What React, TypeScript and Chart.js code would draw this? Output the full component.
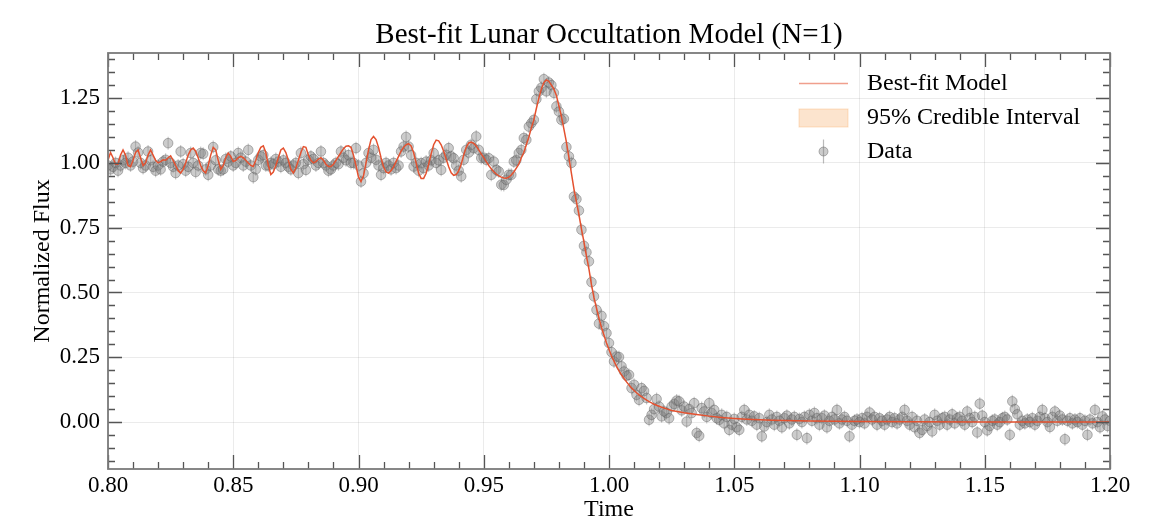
import React, { useEffect, useRef } from 'react';
import { Chart, registerables } from 'chart.js';

Chart.register(...registerables);

// ---------- data ----------
const titleText = 'Best-fit Lunar Occultation Model (N=1)';
const xLabel = 'Time';
const yLabel = 'Normalized Flux';
const legendLabels = ['Best-fit Model', '95% Credible Interval', 'Data'];

const dataTime = [
  0.800, 0.801, 0.802, 0.803, 0.804, 0.805, 0.806, 0.807, 0.808, 0.809,
  0.810, 0.811, 0.812, 0.813, 0.814, 0.815, 0.816, 0.817, 0.818, 0.819,
  0.820, 0.821, 0.822, 0.823, 0.824, 0.825, 0.826, 0.827, 0.828, 0.829,
  0.830, 0.831, 0.832, 0.833, 0.834, 0.835, 0.836, 0.837, 0.838, 0.839,
  0.840, 0.841, 0.842, 0.843, 0.844, 0.845, 0.846, 0.847, 0.848, 0.849,
  0.850, 0.851, 0.852, 0.853, 0.854, 0.855, 0.856, 0.857, 0.858, 0.859,
  0.860, 0.861, 0.862, 0.863, 0.864, 0.865, 0.866, 0.867, 0.868, 0.869,
  0.870, 0.871, 0.872, 0.873, 0.874, 0.875, 0.876, 0.877, 0.878, 0.879,
  0.880, 0.881, 0.882, 0.883, 0.884, 0.885, 0.886, 0.887, 0.888, 0.889,
  0.890, 0.891, 0.892, 0.893, 0.894, 0.895, 0.896, 0.897, 0.898, 0.899,
  0.900, 0.901, 0.902, 0.903, 0.904, 0.905, 0.906, 0.907, 0.908, 0.909,
  0.910, 0.911, 0.912, 0.913, 0.914, 0.915, 0.916, 0.917, 0.918, 0.919,
  0.920, 0.921, 0.922, 0.923, 0.924, 0.925, 0.926, 0.927, 0.928, 0.929,
  0.930, 0.931, 0.932, 0.933, 0.934, 0.935, 0.936, 0.937, 0.938, 0.939,
  0.940, 0.941, 0.942, 0.943, 0.944, 0.945, 0.946, 0.947, 0.948, 0.949,
  0.950, 0.951, 0.952, 0.953, 0.954, 0.955, 0.956, 0.957, 0.958, 0.959,
  0.960, 0.961, 0.962, 0.963, 0.964, 0.965, 0.966, 0.967, 0.968, 0.969,
  0.970, 0.971, 0.972, 0.973, 0.974, 0.975, 0.976, 0.977, 0.978, 0.979,
  0.980, 0.981, 0.982, 0.983, 0.984, 0.985, 0.986, 0.987, 0.988, 0.989,
  0.990, 0.991, 0.992, 0.993, 0.994, 0.995, 0.996, 0.997, 0.998, 0.999,
  1.000, 1.001, 1.002, 1.003, 1.004, 1.005, 1.006, 1.007, 1.008, 1.009,
  1.010, 1.011, 1.012, 1.013, 1.014, 1.015, 1.016, 1.017, 1.018, 1.019,
  1.020, 1.021, 1.022, 1.023, 1.024, 1.025, 1.026, 1.027, 1.028, 1.029,
  1.030, 1.031, 1.032, 1.033, 1.034, 1.035, 1.036, 1.037, 1.038, 1.039,
  1.040, 1.041, 1.042, 1.043, 1.044, 1.045, 1.046, 1.047, 1.048, 1.049,
  1.050, 1.051, 1.052, 1.053, 1.054, 1.055, 1.056, 1.057, 1.058, 1.059,
  1.060, 1.061, 1.062, 1.063, 1.064, 1.065, 1.066, 1.067, 1.068, 1.069,
  1.070, 1.071, 1.072, 1.073, 1.074, 1.075, 1.076, 1.077, 1.078, 1.079,
  1.080, 1.081, 1.082, 1.083, 1.084, 1.085, 1.086, 1.087, 1.088, 1.089,
  1.090, 1.091, 1.092, 1.093, 1.094, 1.095, 1.096, 1.097, 1.098, 1.099,
  1.100, 1.101, 1.102, 1.103, 1.104, 1.105, 1.106, 1.107, 1.108, 1.109,
  1.110, 1.111, 1.112, 1.113, 1.114, 1.115, 1.116, 1.117, 1.118, 1.119,
  1.120, 1.121, 1.122, 1.123, 1.124, 1.125, 1.126, 1.127, 1.128, 1.129,
  1.130, 1.131, 1.132, 1.133, 1.134, 1.135, 1.136, 1.137, 1.138, 1.139,
  1.140, 1.141, 1.142, 1.143, 1.144, 1.145, 1.146, 1.147, 1.148, 1.149,
  1.150, 1.151, 1.152, 1.153, 1.154, 1.155, 1.156, 1.157, 1.158, 1.159,
  1.160, 1.161, 1.162, 1.163, 1.164, 1.165, 1.166, 1.167, 1.168, 1.169,
  1.170, 1.171, 1.172, 1.173, 1.174, 1.175, 1.176, 1.177, 1.178, 1.179,
  1.180, 1.181, 1.182, 1.183, 1.184, 1.185, 1.186, 1.187, 1.188, 1.189,
  1.190, 1.191, 1.192, 1.193, 1.194, 1.195, 1.196, 1.197, 1.198, 1.199,
  1.200,
];

const dataFlux = [
  0.99, 0.975, 0.985, 1.00, 0.97, 0.99, 1.01, 1.00, 1.02, 0.99,
  1.005, 1.063, 1.04, 1.00, 0.98, 0.99, 1.044, 1.01, 0.985, 0.97,
  0.99, 0.975, 1.005, 1.012, 1.076, 1.00, 0.985, 0.961, 0.99, 1.044,
  0.995, 0.97, 0.985, 1.038, 1.00, 0.965, 0.99, 1.038, 1.035, 0.975,
  0.954, 0.99, 1.061, 1.01, 0.975, 0.97, 0.975, 1.015, 1.005, 1.025,
  0.99, 1.00, 1.038, 1.02, 0.99, 1.005, 1.05, 0.99, 0.945, 0.975,
  1.012, 1.025, 1.03, 0.99, 0.99, 1.00, 0.995, 1.015, 1.005, 0.985,
  1.01, 1.00, 0.985, 0.975, 0.99, 1.00, 0.961, 1.038, 0.995, 0.973,
  1.012, 1.025, 1.015, 0.99, 1.00, 1.044, 1.00, 0.99, 0.97, 0.975,
  0.99, 1.00, 0.995, 1.044, 1.02, 1.01, 1.03, 1.00, 1.00, 1.057,
  0.99, 0.928, 0.96, 1.00, 1.038, 1.02, 1.05, 1.012, 0.99, 0.954,
  0.98, 1.00, 0.99, 0.975, 1.00, 0.98, 0.99, 1.044, 1.063, 1.10,
  1.063, 1.03, 0.986, 1.00, 0.97, 0.999, 0.98, 1.005, 0.99, 1.01,
  1.038, 1.00, 1.01, 0.973, 1.02, 1.031, 1.057, 1.025, 1.018, 0.99,
  0.97, 0.948, 1.012, 1.05, 1.04, 1.07, 1.057, 1.102, 1.05, 1.019,
  1.02, 1.012, 1.018, 0.954, 1.005, 0.973, 0.967, 0.916, 0.915, 0.935,
  0.954, 0.954, 1.005, 1.01, 1.038, 1.05, 1.096, 1.089, 1.14, 1.153,
  1.166, 1.246, 1.276, 1.29, 1.323, 1.276, 1.31, 1.30, 1.27, 1.218,
  1.198, 1.166, 1.17, 1.061, 1.025, 1.00, 0.87, 0.86, 0.816, 0.742,
  0.68, 0.655, 0.62, 0.54, 0.485, 0.433, 0.38, 0.41, 0.37, 0.343,
  0.305, 0.27, 0.234, 0.253, 0.251, 0.215, 0.195, 0.179, 0.182, 0.131,
  0.144, 0.105, 0.086, 0.131, 0.12, 0.093, 0.009, 0.028, 0.05, 0.089,
  0.06, 0.022, 0.041, 0.035, 0.015, 0.06, 0.07, 0.083, 0.08, 0.045,
  0.06, 0.002, 0.05, 0.035, 0.073, -0.042, -0.053, 0.054, 0.041, 0.02,
  0.073, 0.035, 0.047, 0.015, 0.009, 0.028, -0.005, 0.02, -0.03, -0.01,
  0.012, -0.02, -0.03, 0.02, 0.047, 0.01, 0.028, 0.005, 0.022, -0.01,
  0.015, -0.055, -0.017, 0.00, 0.028, 0.01, -0.01, 0.02, 0.005, -0.02,
  0.015, 0.025, -0.005, 0.01, 0.02, -0.049, 0.012, 0.00, 0.02, -0.062,
  0.028, 0.005, 0.035, 0.015, -0.01, 0.015, 0.025, -0.02, 0.005, 0.02,
  0.01, 0.047, -0.005, 0.01, 0.02, 0.005, -0.055, -0.01, 0.005, 0.01,
  0.00, 0.015, -0.005, 0.02, 0.037, 0.01, 0.02, -0.01, 0.015, 0.005,
  -0.01, 0.01, 0.02, 0.00, 0.015, -0.005, 0.01, 0.02, 0.047, 0.005,
  -0.01, 0.02, -0.02, 0.005, -0.042, -0.03, 0.01, -0.015, 0.00, -0.036,
  0.028, 0.005, -0.01, 0.015, 0.02, -0.01, 0.01, 0.03, -0.005, 0.015,
  0.02, 0.005, -0.01, 0.041, 0.015, 0.00, 0.02, -0.04, 0.071, 0.025,
  0.00, -0.032, -0.015, 0.005, 0.01, -0.01, 0.00, 0.015, 0.02, 0.01,
  -0.049, 0.08, 0.05, 0.03, -0.01, 0.005, -0.005, 0.01, 0.00, 0.015,
  -0.01, 0.005, 0.02, 0.047, 0.015, 0.00, -0.019, 0.02, 0.041, 0.005,
  0.025, 0.01, -0.066, 0.005, 0.015, -0.005, 0.01, 0.00, 0.015, -0.01,
  0.005, -0.049, 0.01, -0.005, 0.047, 0.00, -0.02, 0.022, 0.01, -0.015,
  0.005,
];

const fluxError = 0.025;

const modelTime = [
  0.800, 0.801, 0.802, 0.803, 0.804, 0.805, 0.806, 0.807, 0.808, 0.809,
  0.810, 0.811, 0.812, 0.813, 0.814, 0.815, 0.816, 0.817, 0.818, 0.819,
  0.820, 0.821, 0.822, 0.823, 0.824, 0.825, 0.826, 0.827, 0.828, 0.829,
  0.830, 0.831, 0.832, 0.833, 0.834, 0.835, 0.836, 0.837, 0.838, 0.839,
  0.840, 0.841, 0.842, 0.843, 0.844, 0.845, 0.846, 0.847, 0.848, 0.849,
  0.850, 0.851, 0.852, 0.853, 0.854, 0.855, 0.856, 0.857, 0.858, 0.859,
  0.860, 0.861, 0.862, 0.863, 0.864, 0.865, 0.866, 0.867, 0.868, 0.869,
  0.870, 0.871, 0.872, 0.873, 0.874, 0.875, 0.876, 0.877, 0.878, 0.879,
  0.880, 0.881, 0.882, 0.883, 0.884, 0.885, 0.886, 0.887, 0.888, 0.889,
  0.890, 0.891, 0.892, 0.893, 0.894, 0.895, 0.896, 0.897, 0.898, 0.899,
  0.900, 0.901, 0.902, 0.903, 0.904, 0.905, 0.906, 0.907, 0.908, 0.909,
  0.910, 0.911, 0.912, 0.913, 0.914, 0.915, 0.916, 0.917, 0.918, 0.919,
  0.920, 0.921, 0.922, 0.923, 0.924, 0.925, 0.926, 0.927, 0.928, 0.929,
  0.930, 0.931, 0.932, 0.933, 0.934, 0.935, 0.936, 0.937, 0.938, 0.939,
  0.940, 0.941, 0.942, 0.943, 0.944, 0.945, 0.946, 0.947, 0.948, 0.949,
  0.950, 0.951, 0.952, 0.953, 0.954, 0.955, 0.956, 0.957, 0.958, 0.959,
  0.960, 0.961, 0.962, 0.963, 0.964, 0.965, 0.966, 0.967, 0.968, 0.969,
  0.970, 0.971, 0.972, 0.973, 0.974, 0.975, 0.976, 0.977, 0.978, 0.979,
  0.980, 0.981, 0.982, 0.983, 0.984, 0.985, 0.986, 0.987, 0.988, 0.989,
  0.990, 0.991, 0.992, 0.993, 0.994, 0.995, 0.996, 0.997, 0.998, 0.999,
  1.000, 1.001, 1.002, 1.003, 1.004, 1.005, 1.006, 1.007, 1.008, 1.009,
  1.010, 1.011, 1.012, 1.013, 1.014, 1.015, 1.016, 1.017, 1.018, 1.019,
  1.020, 1.021, 1.022, 1.023, 1.024, 1.025,
  1.030, 1.035, 1.040, 1.045, 1.050, 1.055, 1.060, 1.065, 1.070,
  1.080, 1.090, 1.100, 1.120, 1.150, 1.200,
];

const modelFlux = [
  1.01, 1.04, 1.02, 0.995, 0.995, 1.03, 1.05, 1.03, 0.99, 0.985,
  1.01, 1.04, 1.05, 1.02, 0.99, 1.00, 1.03, 1.05, 1.03, 1.01,
  1.00, 1.005, 1.012, 1.01, 1.02, 1.027, 1.01, 0.99, 0.97, 0.961,
  0.975, 1.00, 1.03, 1.05, 1.057, 1.045, 1.02, 0.99, 0.97, 0.961,
  0.99, 1.03, 1.06, 1.05, 1.01, 0.975, 0.99, 1.02, 1.038, 1.025,
  1.005, 1.01, 1.02, 1.025, 1.02, 1.01, 1.00, 0.99, 0.986, 1.01,
  1.04, 1.06, 1.066, 1.04, 0.99, 0.955, 0.965, 0.99, 1.02, 1.05,
  1.057, 1.04, 1.01, 0.975, 0.961, 0.98, 1.01, 1.04, 1.063, 1.06,
  1.03, 1.01, 1.00, 1.005, 1.015, 1.02, 1.01, 0.995, 0.986, 0.986,
  0.995, 1.01, 1.025, 1.04, 1.055, 1.064, 1.066, 1.06, 1.03, 0.99,
  0.945, 0.928, 0.95, 1.00, 1.05, 1.09, 1.102, 1.09, 1.06, 1.02,
  0.985, 0.965, 0.961, 0.97, 0.985, 1.005, 1.025, 1.045, 1.06, 1.07,
  1.074, 1.065, 1.04, 1.00, 0.96, 0.94, 0.94, 0.96, 0.995, 1.035,
  1.07, 1.088, 1.085, 1.07, 1.045, 1.015, 0.985, 0.962, 0.952, 0.955,
  0.97, 0.995, 1.03, 1.06, 1.077, 1.08, 1.075, 1.065, 1.05, 1.035,
  1.02, 1.005, 0.99, 0.977, 0.966, 0.957, 0.95, 0.945, 0.942, 0.941,
  0.945, 0.953, 0.965, 0.98, 0.995, 1.02, 1.04, 1.07, 1.10, 1.135,
  1.166, 1.21, 1.25, 1.285, 1.31, 1.32, 1.315, 1.30, 1.285, 1.26,
  1.22, 1.18, 1.13, 1.08, 1.02, 0.96, 0.90, 0.85, 0.80, 0.745,
  0.695, 0.64, 0.59, 0.53, 0.48, 0.44, 0.40, 0.365, 0.335, 0.305,
  0.28, 0.255, 0.235, 0.215, 0.198, 0.182, 0.168, 0.155, 0.143, 0.132,
  0.122, 0.113, 0.105, 0.098, 0.091, 0.085, 0.079, 0.074, 0.069, 0.065,
  0.061, 0.057, 0.054, 0.051, 0.048, 0.045,
  0.036, 0.029, 0.023, 0.018, 0.014, 0.011, 0.009, 0.007, 0.006,
  0.004, 0.003, 0.002, 0.001, 0.0005, 0.0,
];

const xTicks = [0.8, 0.85, 0.9, 0.95, 1.0, 1.05, 1.1, 1.15, 1.2];
const yTicks = [0.0, 0.25, 0.5, 0.75, 1.0, 1.25];
const xRange = [0.8, 1.2];
const yRange = [-0.181, 1.424];
const xMinorStep = 0.01;
const yMinorStep = 0.05;

// ---------- styling ----------
const FONT = "'Liberation Serif', 'Times New Roman', serif";
const MODEL_COLOR = '#e4512f';
const FRAME_COLOR = '#7a7a7a';
const TICK_COLOR = '#555555';
const POINT_FILL = 'rgba(128,128,128,0.4)';
const POINT_EDGE = 'rgba(95,95,95,0.45)';

const decorPlugin = {
  id: 'decor',
  beforeDatasetsDraw(chart: any) {
    const { ctx, chartArea, scales } = chart;
    const x = scales.x;
    const y = scales.y;
    ctx.save();
    ctx.beginPath();
    ctx.rect(chartArea.left, chartArea.top, chartArea.right - chartArea.left, chartArea.bottom - chartArea.top);
    ctx.clip();
    ctx.strokeStyle = 'rgba(140,140,140,0.45)';
    ctx.lineWidth = 1.2;
    ctx.beginPath();
    for (let i = 0; i < dataTime.length; i++) {
      const px = x.getPixelForValue(dataTime[i]);
      ctx.moveTo(px, y.getPixelForValue(dataFlux[i] + fluxError));
      ctx.lineTo(px, y.getPixelForValue(dataFlux[i] - fluxError));
    }
    ctx.stroke();
    ctx.restore();
  },
  afterDraw(chart: any) {
    const { ctx, chartArea, scales } = chart;
    const x = scales.x;
    const y = scales.y;
    const { left, right, top, bottom } = chartArea;
    ctx.save();
    // title, centred over the plot area
    ctx.font = `29px ${FONT}`;
    ctx.fillStyle = '#000';
    ctx.textAlign = 'center';
    ctx.textBaseline = 'middle';
    ctx.fillText(titleText, (left + right) / 2, top - 18);

    // ticks (inward, all four sides)
    ctx.strokeStyle = TICK_COLOR;
    ctx.lineWidth = 1.3;
    ctx.beginPath();
    const nx = Math.round((xRange[1] - xRange[0]) / xMinorStep);
    for (let k = 0; k <= nx; k++) {
      const v = xRange[0] + k * xMinorStep;
      const isMajor = xTicks.some((t) => Math.abs(t - v) < 1e-6);
      const len = isMajor ? 14 : 7;
      const px = Math.round(x.getPixelForValue(v)) + 0.5;
      ctx.moveTo(px, bottom);
      ctx.lineTo(px, bottom - len);
      ctx.moveTo(px, top);
      ctx.lineTo(px, top + len);
    }
    const kStart = Math.ceil(yRange[0] / yMinorStep);
    const kEnd = Math.floor(yRange[1] / yMinorStep);
    for (let k = kStart; k <= kEnd; k++) {
      const v = k * yMinorStep;
      const isMajor = yTicks.some((t) => Math.abs(t - v) < 1e-6);
      const len = isMajor ? 14 : 7;
      const py = Math.round(y.getPixelForValue(v)) + 0.5;
      ctx.moveTo(left, py);
      ctx.lineTo(left + len, py);
      ctx.moveTo(right, py);
      ctx.lineTo(right - len, py);
    }
    ctx.stroke();
    // frame
    ctx.strokeStyle = FRAME_COLOR;
    ctx.lineWidth = 1.8;
    ctx.strokeRect(left, top, right - left, bottom - top);

    // legend
    const hx0 = right - 311;
    const hx1 = right - 262;
    const tx = right - 243;
    const rows = [top + 30.5, top + 65, top + 98.5];
    ctx.font = `24px ${FONT}`;
    ctx.textBaseline = 'middle';
    ctx.textAlign = 'left';
    // line handle
    ctx.strokeStyle = 'rgba(228,81,47,0.55)';
    ctx.lineWidth = 1.6;
    ctx.beginPath();
    ctx.moveTo(hx0, rows[0]);
    ctx.lineTo(hx1, rows[0]);
    ctx.stroke();
    // band handle
    ctx.fillStyle = 'rgba(246,166,92,0.3)';
    ctx.fillRect(hx0, rows[1] - 9, hx1 - hx0, 18);
    ctx.strokeStyle = 'rgba(246,166,92,0.35)';
    ctx.lineWidth = 1;
    ctx.strokeRect(hx0, rows[1] - 9, hx1 - hx0, 18);
    // data handle
    const cx = (hx0 + hx1) / 2;
    ctx.strokeStyle = 'rgba(140,140,140,0.6)';
    ctx.lineWidth = 1.2;
    ctx.beginPath();
    ctx.moveTo(cx, rows[2] - 12);
    ctx.lineTo(cx, rows[2] + 12);
    ctx.stroke();
    ctx.beginPath();
    ctx.arc(cx, rows[2], 4.5, 0, Math.PI * 2);
    ctx.fillStyle = POINT_FILL;
    ctx.fill();
    ctx.strokeStyle = POINT_EDGE;
    ctx.lineWidth = 1;
    ctx.stroke();
    // texts
    ctx.fillStyle = '#000';
    legendLabels.forEach((lab, i) => ctx.fillText(lab, tx, rows[i]));
    ctx.restore();
  },
};

export default function App() {
  const ref = useRef<HTMLCanvasElement | null>(null);

  useEffect(() => {
    if (!ref.current) return;
    const scatterPoints = dataTime.map((t, i) => ({ x: t, y: dataFlux[i] }));
    const modelPoints = modelTime.map((t, i) => ({ x: t, y: modelFlux[i] }));
    const chart = new Chart(ref.current, {
      type: 'scatter',
      data: {
        datasets: [
          {
            type: 'line',
            label: legendLabels[0],
            data: modelPoints,
            borderColor: MODEL_COLOR,
            borderWidth: 1.5,
            pointRadius: 0,
            tension: 0,
            fill: false,
            order: 0,
          } as any,
          {
            type: 'scatter',
            label: legendLabels[2],
            data: scatterPoints,
            pointRadius: 4.8,
            backgroundColor: POINT_FILL,
            borderColor: POINT_EDGE,
            borderWidth: 1,
            order: 1,
          } as any,
        ],
      },
      options: {
        animation: false,
        responsive: false,
        devicePixelRatio: 1,
        layout: { padding: { left: 0, right: 47, top: 53, bottom: 0 } },
        plugins: {
          legend: { display: false },
          tooltip: { enabled: false },
          title: { display: false },
        },
        scales: {
          x: {
            type: 'linear',
            min: xRange[0],
            max: xRange[1],
            afterBuildTicks: (s: any) => {
              s.ticks = xTicks.map((v) => ({ value: v }));
            },
            afterFit: (s: any) => {
              s.height = 63;
            },
            ticks: {
              callback: (v: any) => Number(v).toFixed(2),
              color: '#000',
              font: { family: FONT, size: 23 },
              padding: 3,
              maxRotation: 0,
              autoSkip: false,
            },
            grid: { color: 'rgba(0,0,0,0.08)', lineWidth: 1, drawTicks: false },
            border: { display: false },
            title: {
              display: true,
              text: xLabel,
              color: '#000',
              font: { family: FONT, size: 24 },
              padding: { top: 0, bottom: 7.6 },
            },
          },
          y: {
            type: 'linear',
            min: yRange[0],
            max: yRange[1],
            afterBuildTicks: (s: any) => {
              s.ticks = yTicks.map((v) => ({ value: v }));
            },
            afterFit: (s: any) => {
              s.width = 108;
            },
            ticks: {
              callback: (v: any) => Number(v).toFixed(2),
              color: '#000',
              font: { family: FONT, size: 23 },
              padding: 8,
            },
            grid: { color: 'rgba(0,0,0,0.08)', lineWidth: 1, drawTicks: false },
            border: { display: false },
            title: {
              display: true,
              text: yLabel,
              color: '#000',
              font: { family: FONT, size: 24 },
              padding: { top: 28.5, bottom: 0 },
            },
          },
        },
      } as any,
      plugins: [decorPlugin],
    });
    return () => chart.destroy();
  }, []);

  return (
    <div style={{ position: 'absolute', left: 0, top: 0, width: 1157, height: 532, background: '#fff' }}>
      <canvas ref={ref} width={1157} height={532} style={{ display: 'block' }} />
    </div>
  );
}
